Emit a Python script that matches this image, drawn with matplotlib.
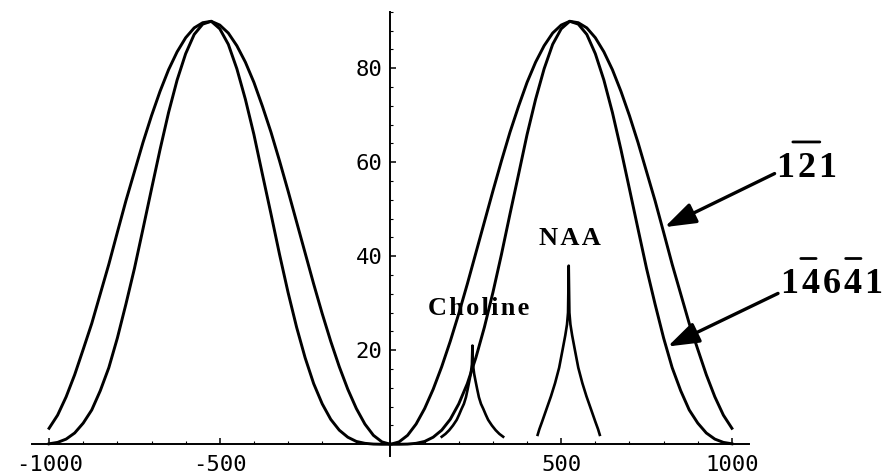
import numpy as np
import matplotlib
matplotlib.use("Agg")
import matplotlib.pyplot as plt
from matplotlib.ticker import MultipleLocator

# frequency offset (Hz), half profile 0..1000, mirrored for the negative side
freq_half = [0, 25, 50, 75, 100, 125, 150, 175, 200, 225, 250, 275, 300, 325, 350,
             375, 400, 425, 450, 475, 500, 525, 550, 575, 600, 625, 650, 675, 700,
             725, 750, 775, 800, 825, 850, 875, 900, 925, 950, 975, 1000]

# excitation profile of the 1-2-1 pulse (outer curve)
flip_121 = [0, 0.5, 1.9, 4.3, 7.6, 11.7, 16.5, 21.9, 27.8, 34.1, 40.7, 47.3, 53.9,
            60.3, 66.4, 71.9, 77.0, 81.3, 84.8, 87.5, 89.2, 90.0, 89.7, 88.6, 86.5,
            83.5, 79.7, 75.1, 69.9, 64.2, 58.0, 51.8, 45.1, 38.3, 32.0, 25.7, 20.2,
            14.8, 10.1, 6.2, 3.4]

# excitation profile of the 1-4-6-4-1 pulse (inner curve)
flip_14641 = [0, 0.0, 0.04, 0.2, 0.6, 1.5, 3.0, 5.3, 8.6, 12.9, 18.4, 24.9, 32.3,
              40.4, 49.0, 57.4, 65.9, 73.4, 79.9, 85.1, 88.4, 90.0, 89.4, 87.2, 83.1,
              77.5, 70.6, 62.7, 54.3, 45.8, 37.4, 29.8, 22.6, 16.3, 11.4, 7.3, 4.5,
              2.4, 1.1, 0.4, 0.1]

# metabolite lines
cho_x = [150, 161, 172, 183, 194, 201, 208, 215, 221, 226, 231, 235, 238.5, 240,
         241.5, 245, 249, 254, 259, 265, 272, 279, 286, 297, 308, 319, 330]
cho_y = [1.6, 2.2, 3.0, 4.0, 5.2, 6.3, 7.5, 8.6, 10.0, 11.7, 13.5, 15.0, 17.0, 21.0,
         17.0, 15.0, 13.5, 11.7, 10.0, 8.6, 7.5, 6.3, 5.2, 4.0, 3.0, 2.2, 1.6]

naa_x = [431, 436, 444, 456, 470, 482, 494, 504, 512, 517, 520, 522,
         524, 527, 532, 540, 550, 562, 574, 588, 600, 608, 613]
naa_y = [2.0, 3.2, 4.8, 7.3, 10.2, 13.0, 16.3, 20.1, 23.2, 25.5, 28.0, 38.0,
         28.0, 25.5, 23.2, 20.1, 16.3, 13.0, 10.2, 7.3, 4.8, 3.2, 2.0]

fh = np.array(freq_half)
freq = np.concatenate([-fh[::-1], fh[1:]])
a = np.array(flip_121)
b = np.array(flip_14641)
curve_121 = np.concatenate([a[::-1], a[1:]])
curve_14641 = np.concatenate([b[::-1], b[1:]])

fig = plt.figure(figsize=(8.89, 4.76), dpi=100)
ax = fig.add_axes([0.036, 0.041, 0.8065, 0.934])

lw = 2.1
ax.plot(freq, curve_121, color='black', lw=lw, solid_joinstyle='round')
ax.plot(freq, curve_14641, color='black', lw=lw, solid_joinstyle='round')
ax.plot(cho_x, cho_y, color='black', lw=1.9, solid_joinstyle='round')
ax.plot(naa_x, naa_y, color='black', lw=1.9, solid_joinstyle='round')

ax.set_xlim(-1050, 1050)
ax.set_ylim(-2.6, 92)

# Mathematica style axes through the origin
for s in ['top', 'right']:
    ax.spines[s].set_visible(False)
ax.spines['left'].set_position(('data', 0))
ax.spines['bottom'].set_position(('data', 0))
ax.spines['left'].set_linewidth(1.4)
ax.spines['bottom'].set_linewidth(1.4)

ax.set_xticks([-1000, -500, 500, 1000])
ax.set_xticklabels(['-1000', '-500', '500', '1000'])
ax.set_yticks([20, 40, 60, 80])
ax.xaxis.set_minor_locator(MultipleLocator(100))
ax.yaxis.set_minor_locator(MultipleLocator(4))
ax.tick_params(axis='both', which='major', direction='in', length=4, width=1.1,
               labelsize=16)
ax.tick_params(axis='both', which='minor', direction='in', length=2.5, width=0.8)
ax.tick_params(axis='x', pad=8)
ax.tick_params(axis='y', pad=6)
for lab in ax.get_xticklabels() + ax.get_yticklabels():
    lab.set_family('DejaVu Sans Mono')

serif = ['Liberation Serif', 'DejaVu Serif']
hs = '\u200a'  # hair space, the labels are letter spaced


def spaced(s):
    return hs.join(s)


ax.text(259, 28.8, spaced('Choline'), family=serif, weight='bold', fontsize=19,
        ha='center', va='center')
ax.text(525, 43.7, spaced('NAA'), family=serif, weight='bold', fontsize=19,
        ha='center', va='center')

t1 = ax.text(1131, 56.9, spaced('121'), family=serif, weight='bold', fontsize=26,
             ha='left', va='baseline', clip_on=False)
t2 = ax.text(1145, 32.1, spaced('14641'), family=serif, weight='bold', fontsize=26,
             ha='left', va='baseline', clip_on=False)

# overbars
bar = dict(arrowstyle='-', lw=2.0, color='black', shrinkA=0, shrinkB=0)
ax.annotate('', xy=(0.27, 1.3), xytext=(0.72, 1.3), xycoords=t1, textcoords=t1,
            arrowprops=bar, annotation_clip=False)
ax.annotate('', xy=(0.19, 1.3), xytext=(0.34, 1.3), xycoords=t2, textcoords=t2,
            arrowprops=bar, annotation_clip=False)
ax.annotate('', xy=(0.63, 1.3), xytext=(0.78, 1.3), xycoords=t2, textcoords=t2,
            arrowprops=bar, annotation_clip=False)

arrow = dict(arrowstyle='-|>,head_length=1.9,head_width=0.65', lw=2.4,
             color='black', shrinkA=0, shrinkB=0)
ax.annotate('', xy=(803, 46.2), xytext=(1125, 57.6), arrowprops=arrow,
            annotation_clip=False)
ax.annotate('', xy=(812, 20.8), xytext=(1135, 32.1), arrowprops=arrow,
            annotation_clip=False)

fig.savefig('out.png', dpi=100)
